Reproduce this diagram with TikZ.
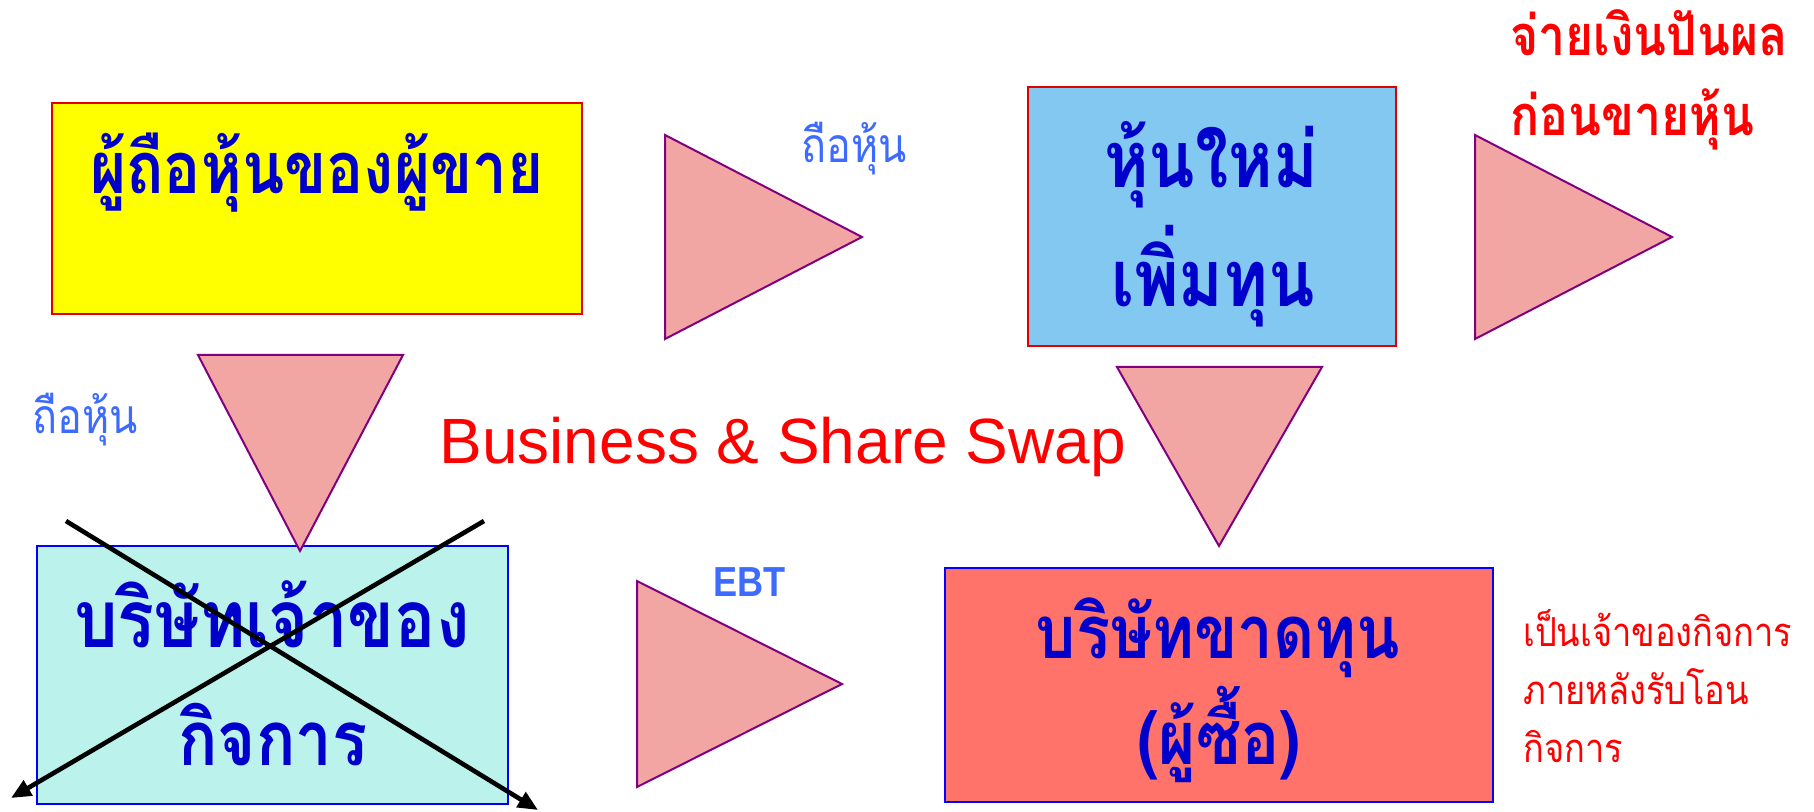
\documentclass[tikz,border=0pt]{standalone}
\usepackage{fontspec}
\setmainfont{Liberation Sans}
\newfontfamily\thai[Script=Thai,FakeStretch=0.86]{Loma}
\newfontfamily\ebtfont[FakeStretch=0.86]{Liberation Sans}
\usetikzlibrary{arrows.meta}
\definecolor{trifill}{HTML}{F2A6A4}
\definecolor{tridraw}{HTML}{800080}
\definecolor{yellowf}{HTML}{FFFF00}
\definecolor{bluef}{HTML}{82C8F0}
\definecolor{tealf}{HTML}{BBF2EC}
\definecolor{redf}{HTML}{FF736A}
\definecolor{borderred}{HTML}{E00000}
\definecolor{borderblue}{HTML}{0000FF}
\definecolor{darkblue}{HTML}{0000CC}
\definecolor{lightblue}{HTML}{3D6BFF}
\definecolor{textred}{HTML}{FF0000}
\tikzset{
  box/.style={rectangle, line width=1.3pt, inner sep=0pt},
  tri/.style={fill=trifill, draw=tridraw, line width=1pt, line join=miter},
  bigtext/.style={anchor=base, inner sep=0pt, text=darkblue, font=\thai\bfseries\fontsize{#1}{#1}\selectfont},
  lbl/.style={anchor=base west, inner sep=0pt, text=lightblue, font=\thai\fontsize{24}{24}\selectfont},
  rednote/.style={anchor=base west, inner sep=0pt, text=textred, font=\thai\fontsize{#1}{#1}\selectfont},
  rednotebf/.style={anchor=base west, inner sep=0pt, text=textred, font=\thai\bfseries\fontsize{#1}{#1}\selectfont},
  crossline/.style={line width=2.3pt, -{Triangle[length=10pt,width=8.5pt]}}
}
\begin{document}
\begin{tikzpicture}[x=0.5pt,y=-0.5pt]
\useasboundingbox (0,0) rectangle (1814,812);

% boxes
\node[box, fill=yellowf, draw=borderred, minimum width=265pt, minimum height=105.5pt] (seller) at (317,208.5) {};
\node[box, fill=bluef, draw=borderred, minimum width=184pt, minimum height=129.5pt] (newshare) at (1212,216.5) {};
\node[box, fill=tealf, draw=borderblue, minimum width=235.5pt, minimum height=129pt] (owner) at (272.5,675) {};
\node[box, fill=redf, draw=borderblue, minimum width=274pt, minimum height=117pt] (buyer) at (1219,685) {};

% triangles
\draw[tri] (665,135) -- (665,339) -- (862,237) -- cycle;
\draw[tri] (1475,135) -- (1475,339) -- (1672,237) -- cycle;
\draw[tri] (198,355) -- (403,355) -- (300,551) -- cycle;
\draw[tri] (1117,367) -- (1322,367) -- (1219,546) -- cycle;
\draw[tri] (637,581) -- (637,787) -- (842,684) -- cycle;

% box texts
\node[bigtext=36] (sellertxt) at (317,194) {ผู้ถือหุ้นของผู้ขาย};
\node[bigtext=39.5] (newsharetxta) at (1211,188) {หุ้นใหม่};
\node[bigtext=39.5] (newsharetxtb) at (1213,307) {เพิ่มทุน};
\node[bigtext=40] (ownertxta) at (272,647) {บริษัทเจ้าของ};
\node[bigtext=38] (ownertxtb) at (273,765) {กิจการ};
\node[bigtext=37] (buyertxta) at (1218,658) {บริษัทขาดทุน};
\node[bigtext=37] (buyertxtb) at (1219,764) {(ผู้ซื้อ)};

% labels
\node[lbl] (hold1) at (801,163) {ถือหุ้น};
\node[lbl] (hold2) at (32,433) {ถือหุ้น};
\node[anchor=base west, inner sep=0pt, text=lightblue, font=\ebtfont\bfseries\fontsize{21}{21}\selectfont] (ebt) at (713,596) {EBT};
\node[anchor=base west, inner sep=0pt, text=textred, font=\fontsize{32}{32}\selectfont] (swap) at (439,463) {Business \& Share Swap};

\node[rednotebf=28] (div1) at (1510,56) {จ่ายเงินปันผล};
\node[rednotebf=28] (div2) at (1510,136) {ก่อนขายหุ้น};
\node[rednote=20] (after1) at (1523,646) {เป็นเจ้าของกิจการ};
\node[rednote=20] (after2) at (1523,704) {ภายหลังรับโอน};
\node[rednote=20] (after3) at (1523,762) {กิจการ};

% cross
\coordinate (crossAs) at (66,521);
\coordinate (crossAe) at (538,810);
\coordinate (crossBs) at (484,521);
\coordinate (crossBe) at (11,798);
\draw[crossline] (crossAs) -- (crossAe);
\draw[crossline] (crossBs) -- (crossBe);
\end{tikzpicture}
\end{document}
